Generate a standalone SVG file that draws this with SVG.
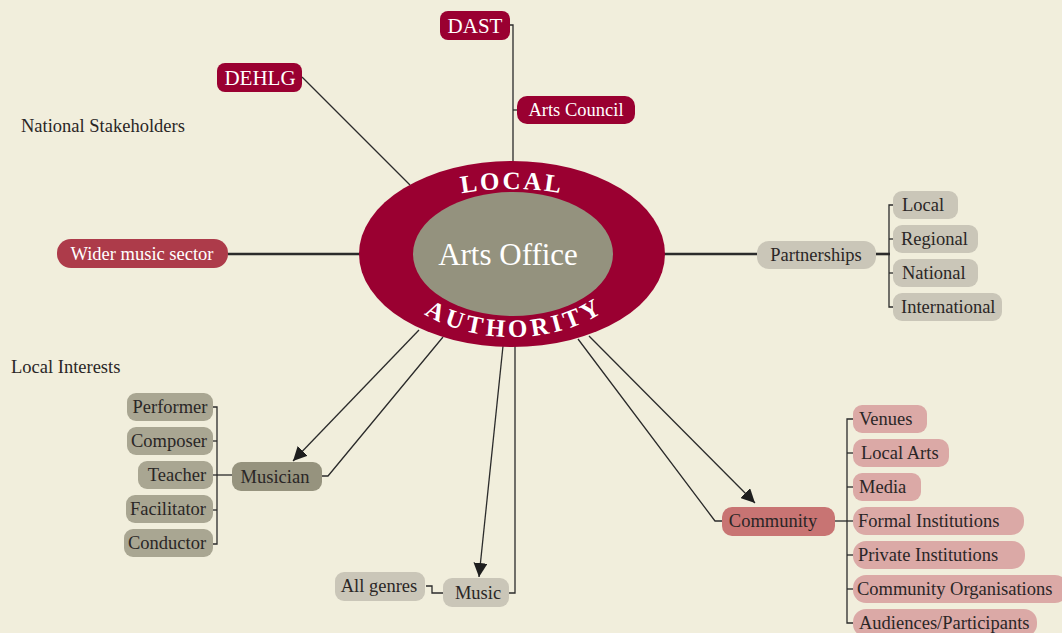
<svg xmlns="http://www.w3.org/2000/svg" width="1062" height="633" viewBox="0 0 1062 633">
<style>
text{font-family:"Liberation Serif","Times New Roman",serif;font-size:18.5px;fill:#2a2626}
.w{fill:#ffffff}
.c{text-anchor:middle}
.ln{fill:none;stroke:#2b2b2b;stroke-width:1.3}
.thick{fill:none;stroke:#2b2b2b;stroke-width:2.6}
.red{fill:#9a0031}
.wider{fill:#ad3b4a}
.grey{fill:#cac6b8}
.mus{fill:#96937e}
.musc{fill:#a9a692}
.com{fill:#c87473}
.comc{fill:#dba9a6}
.arc{font-weight:bold;font-size:25px;fill:#fff}
</style>
<defs>
<marker id="ah" markerUnits="userSpaceOnUse" markerWidth="14" markerHeight="14" viewBox="0 0 10 10" refX="10" refY="5" orient="auto"><path d="M0,0 L10,5 L0,10 z" fill="#1e1e1e"/></marker>
<path id="topArc" d="M 372,255 A 140 66 0 0 1 652,255"/>
<path id="botArc" d="M 385,254 A 127 83 0 0 0 639,254"/>
</defs>
<rect width="1062" height="633" fill="#f1eedc"/>
<text x="21" y="132">National Stakeholders</text>
<text x="11" y="373">Local Interests</text>
<g id="connectors">
<polyline class="ln" points="510,25 513,25 513,165"/>
<line class="ln" x1="513" y1="110" x2="518" y2="110"/>
<line class="ln" x1="302" y1="77" x2="410" y2="185"/>
<line class="thick" x1="228" y1="254" x2="362" y2="254"/>
<line class="thick" x1="663" y1="254" x2="757" y2="254"/>
<line class="thick" x1="876" y1="254" x2="890" y2="254"/>
<polyline class="ln" points="894,205 889,205 889,307 894,307"/>
<line class="ln" x1="889" y1="239" x2="894" y2="239"/>
<line class="ln" x1="889" y1="273" x2="894" y2="273"/>
<line class="ln" x1="419" y1="330" x2="293" y2="461" marker-end="url(#ah)"/>
<polyline class="ln" points="322,476 328,476 443,337"/>
<polyline class="ln" points="213,407 217,407 217,544 213,544"/>
<line class="ln" x1="213" y1="441" x2="217" y2="441"/>
<line class="ln" x1="213" y1="510" x2="217" y2="510"/>
<line class="ln" x1="213" y1="475" x2="232" y2="475"/>
<line class="ln" x1="503" y1="346" x2="479" y2="577" marker-end="url(#ah)"/>
<polyline class="ln" points="509,593 515,593 515,345"/>
<polyline class="ln" points="426,586 432,586 432,593 443,593"/>
<line class="ln" x1="589" y1="336" x2="755" y2="503" marker-end="url(#ah)"/>
<polyline class="ln" points="578,339 715,521 722,521"/>
<line class="ln" x1="835" y1="521" x2="853" y2="521"/>
<polyline class="ln" points="853,419 847,419 847,623 853,623"/>
<line class="ln" x1="847" y1="453" x2="853" y2="453"/>
<line class="ln" x1="847" y1="487" x2="853" y2="487"/>
<line class="ln" x1="847" y1="555" x2="853" y2="555"/>
<line class="ln" x1="847" y1="589" x2="853" y2="589"/>
</g>
<g id="local-authority">
<ellipse cx="512" cy="254" rx="153" ry="93" class="red"/>
<ellipse cx="513" cy="254" rx="100" ry="62" fill="#94927e"/>
<text class="arc c" letter-spacing="2.5"><textPath href="#topArc" startOffset="50%">LOCAL</textPath></text>
<text class="arc c" letter-spacing="4"><textPath href="#botArc" startOffset="51%">AUTHORITY</textPath></text>
</g>
<g id="arts-office"><text x="508" y="265" class="w c" style="font-size:31px">Arts Office</text></g>
<g id="dast"><rect x="440" y="11" width="70" height="29" rx="8" class="red"/><text x="475" y="33" class="w c" style="font-size:21px">DAST</text></g>
<g id="dehlg"><rect x="217" y="63" width="85" height="29" rx="8" class="red"/><text x="260" y="85" class="w c" style="font-size:21px">DEHLG</text></g>
<g id="arts-council"><rect x="517" y="96" width="118" height="28" rx="10" class="red"/><text x="576" y="116" class="w c">Arts Council</text></g>
<g id="wider"><rect x="57" y="239" width="171" height="29" rx="14" class="wider"/><text x="142" y="260" class="w c">Wider music sector</text></g>
<g id="partnerships"><rect x="757" y="241" width="119" height="28" rx="12" class="grey"/><text x="816" y="261" class="c">Partnerships</text></g>
<g id="p-local"><rect x="893" y="191" width="65" height="28" rx="9" class="grey"/><text x="902" y="211">Local</text></g>
<g id="p-regional"><rect x="893" y="225" width="85" height="28" rx="9" class="grey"/><text x="901" y="245">Regional</text></g>
<g id="p-national"><rect x="893" y="259" width="85" height="28" rx="9" class="grey"/><text x="902" y="279">National</text></g>
<g id="p-international"><rect x="893" y="293" width="109" height="28" rx="9" class="grey"/><text x="901" y="313">International</text></g>
<g id="musician"><rect x="232" y="462" width="90" height="29" rx="9" class="mus"/><text x="275" y="483" class="c">Musician</text></g>
<g id="performer"><rect x="127" y="393" width="86" height="28" rx="9" class="musc"/><text x="170" y="413" class="c">Performer</text></g>
<g id="composer"><rect x="127" y="427" width="86" height="28" rx="9" class="musc"/><text x="169" y="447" class="c">Composer</text></g>
<g id="teacher"><rect x="138" y="461" width="75" height="28" rx="9" class="musc"/><text x="177" y="481" class="c">Teacher</text></g>
<g id="facilitator"><rect x="126" y="495" width="87" height="28" rx="9" class="musc"/><text x="168" y="515" class="c">Facilitator</text></g>
<g id="conductor"><rect x="124" y="529" width="89" height="28" rx="9" class="musc"/><text x="167" y="549" class="c">Conductor</text></g>
<g id="music"><rect x="443" y="578" width="66" height="29" rx="9" class="grey"/><text x="478" y="599" class="c">Music</text></g>
<g id="all-genres"><rect x="335" y="572" width="90" height="29" rx="9" class="grey"/><text x="379" y="592" class="c">All genres</text></g>
<g id="community"><rect x="722" y="507" width="113" height="29" rx="10" class="com"/><text x="773" y="527" class="c">Community</text></g>
<g id="venues"><rect x="853" y="405" width="74" height="28" rx="9" class="comc"/><text x="859" y="425">Venues</text></g>
<g id="local-arts"><rect x="853" y="439" width="96" height="28" rx="10" class="comc"/><text x="861" y="459">Local Arts</text></g>
<g id="media"><rect x="853" y="473" width="68" height="28" rx="9" class="comc"/><text x="859" y="493">Media</text></g>
<g id="formal"><rect x="853" y="507" width="171" height="28" rx="13" class="comc"/><text x="858" y="527">Formal Institutions</text></g>
<g id="private"><rect x="853" y="541" width="172" height="28" rx="13" class="comc"/><text x="858" y="561">Private Institutions</text></g>
<g id="community-org"><rect x="853" y="575" width="215" height="28" rx="13" class="comc"/><text x="857" y="595">Community Organisations</text></g>
<g id="audiences"><rect x="853" y="609" width="184" height="28" rx="13" class="comc"/><text x="859" y="629">Audiences/Participants</text></g>
</svg>
